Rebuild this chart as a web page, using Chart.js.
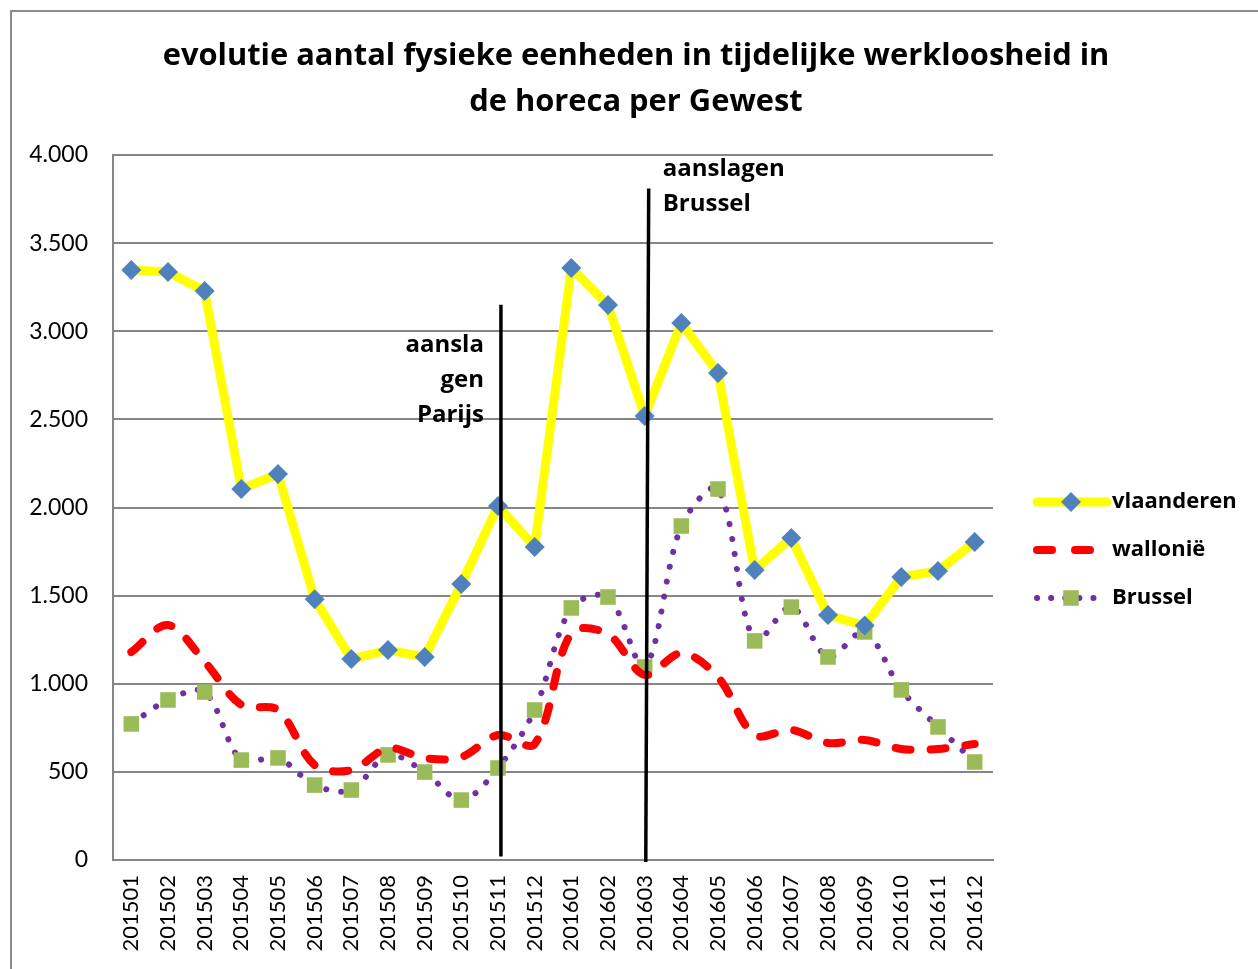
<!DOCTYPE html>
<html>
<head>
<meta charset="utf-8">
<script src="https://cdn.jsdelivr.net/npm/chart.js@4/dist/chart.umd.min.js"></script>
<style>
  html, body { margin: 0; padding: 0; background: #fff; }
  #wrap { width: 1258px; height: 969px; }
</style>
</head>
<body>
<div id="wrap"><canvas id="werkloosheidChart" width="1258" height="969"></canvas></div>
<script>
// maanden (categorieën)
const maanden = ['201501', '201502', '201503', '201504', '201505', '201506', '201507', '201508',
  '201509', '201510', '201511', '201512', '201601', '201602', '201603', '201604',
  '201605', '201606', '201607', '201608', '201609', '201610', '201611', '201612'];

// reeksen
const vlaanderen = [3348, 3336, 3228, 2105, 2190, 1480, 1140, 1191, 1152, 1566, 2009, 1776,
  3359, 3149, 2519, 3047, 2763, 1645, 1827, 1390, 1330, 1606, 1640, 1804];
const wallonie = [1180, 1333, 1125, 880, 851, 539, 510, 635, 578, 584, 709, 658,
  1288, 1282, 1050, 1174, 1038, 709, 738, 664, 681, 630, 630, 658];
const brussel = [772, 908, 953, 567, 579, 425, 397, 596, 499, 340, 522, 851,
  1430, 1492, 1095, 1895, 2105, 1243, 1435, 1152, 1294, 965, 755, 556];

// y-as
const yMin = 0;
const yMax = 4000;
const yStap = 500;

const titel = ['evolutie aantal fysieke eenheden in tijdelijke werkloosheid in', 'de horeca per Gewest'];

// aanslagen: positie in categorie-index, hoogte in eenheden
const aanslagen = [
  { tekst: ['aansla', 'gen', 'Parijs'], onder: 10.08, boven: 10.08, van: 20, tot: 3150, tekstY: 2922, kant: 'links' },
  { tekst: ['aanslagen', 'Brussel'], onder: 14.03, boven: 14.11, van: -12, tot: 3810, tekstY: 3920, kant: 'rechts' }
];

function formatNL(v) {
  return String(v).replace(/\B(?=(\d{3})+(?!\d))/g, '.');
}

const decor = {
  id: 'decor',
  beforeDraw(chart) {
    const ctx = chart.ctx;
    ctx.save();
    ctx.fillStyle = '#fff';
    ctx.fillRect(0, 0, chart.width, chart.height);
    ctx.strokeStyle = '#8c8c8c';
    ctx.lineWidth = 2;
    ctx.strokeRect(11, 11, chart.width + 20, chart.height + 20);
    // titel, breedte afgestemd op het origineel
    ctx.fillStyle = '#000';
    ctx.font = 'bold 30px "Open Sans"';
    const w = ctx.measureText(titel[0]).width;
    const size = 30 * 947 / w;
    ctx.font = 'bold ' + size.toFixed(2) + 'px "Open Sans"';
    ctx.textAlign = 'center';
    ctx.textBaseline = 'middle';
    ctx.fillText(titel[0], 636, 56);
    ctx.fillText(titel[1], 636, 102);
    ctx.restore();
  },
  afterDatasetsDraw(chart) {
    const ctx = chart.ctx;
    const x = chart.scales.x, y = chart.scales.y;
    ctx.save();
    aanslagen.forEach(a => {
      ctx.strokeStyle = '#000';
      ctx.lineWidth = 3.5;
      ctx.beginPath();
      ctx.moveTo(x.getPixelForValue(a.onder), y.getPixelForValue(a.van));
      ctx.lineTo(x.getPixelForValue(a.boven), y.getPixelForValue(a.tot));
      ctx.stroke();
      ctx.fillStyle = '#000';
      ctx.font = 'bold 24px "Open Sans"';
      ctx.textBaseline = 'middle';
      const lx = x.getPixelForValue(a.boven);
      const ty = y.getPixelForValue(a.tekstY);
      a.tekst.forEach((t, i) => {
        if (a.kant === 'links') {
          ctx.textAlign = 'right';
          ctx.fillText(t, lx - 17, ty + i * 35);
        } else {
          ctx.textAlign = 'left';
          ctx.fillText(t, lx + 14, ty + i * 35);
        }
      });
    });
    ctx.restore();
  },
  afterDraw(chart) {
    // legenda
    const ctx = chart.ctx;
    ctx.save();
    chart.data.datasets.forEach((ds, i) => {
      const cy = 502 + i * 48;
      const x0 = 1037, x1 = 1107, cx = 1071;
      ctx.strokeStyle = ds.borderColor;
      ctx.lineWidth = ds.borderWidth;
      ctx.lineCap = ds.borderCapStyle || 'round';
      ctx.setLineDash(ds.legendDash || []);
      ctx.beginPath();
      ctx.moveTo(x0, cy);
      ctx.lineTo(x1, cy);
      ctx.stroke();
      ctx.setLineDash([]);
      if (ds.pointStyle === 'rectRot') {
        const r = ds.pointRadius;
        ctx.fillStyle = ds.pointBackgroundColor;
        ctx.beginPath();
        ctx.moveTo(cx, cy - r);
        ctx.lineTo(cx + r, cy);
        ctx.lineTo(cx, cy + r);
        ctx.lineTo(cx - r, cy);
        ctx.closePath();
        ctx.fill();
      } else if (ds.pointStyle === 'rect') {
        const s = ds.pointRadius * Math.SQRT1_2;
        ctx.fillStyle = ds.pointBackgroundColor;
        ctx.fillRect(cx - s, cy - s, 2 * s, 2 * s);
      }
      ctx.fillStyle = '#000';
      ctx.font = 'bold 22px "Open Sans"';
      ctx.textAlign = 'left';
      ctx.textBaseline = 'middle';
      ctx.fillText(ds.label, 1112, cy);
    });
    ctx.restore();
  }
};

const ctx = document.getElementById('werkloosheidChart').getContext('2d');
new Chart(ctx, {
  type: 'line',
  data: {
    labels: maanden,
    datasets: [{
      label: 'vlaanderen',
      data: vlaanderen,
      borderColor: '#FFFF00',
      borderWidth: 9,
      borderJoinStyle: 'round',
      tension: 0,
      pointStyle: 'rectRot',
      pointRadius: 10,
      pointBackgroundColor: '#4F81BD',
      pointBorderWidth: 0
    }, {
      label: 'wallonië',
      data: wallonie,
      borderColor: '#FF0000',
      borderWidth: 8,
      borderDash: [15, 20],
      legendDash: [15, 23],
      borderCapStyle: 'round',
      tension: 0.33,
      pointRadius: 0
    }, {
      label: 'Brussel',
      data: brussel,
      borderColor: '#7030A0',
      borderWidth: 6,
      borderDash: [0.1, 15],
      legendDash: [0.1, 14],
      borderCapStyle: 'round',
      tension: 0.33,
      pointStyle: 'rect',
      pointRadius: 11,
      pointBackgroundColor: '#9BBB59',
      pointBorderWidth: 0
    }]
  },
  options: {
    responsive: false,
    animation: false,
    layout: { padding: { left: 0, top: 155, right: 1258 - 993, bottom: 0 } },
    plugins: { legend: { display: false }, title: { display: false }, tooltip: { enabled: false } },
    scales: {
      x: {
        offset: true,
        grid: { display: false, drawTicks: false },
        border: { display: true, color: '#868686', width: 2 },
        ticks: {
          color: '#000',
          font: { family: 'Lato', size: 22 },
          minRotation: 90,
          maxRotation: 90,
          padding: 15,
          autoSkip: false
        },
        afterFit(scale) { scale.height = 969 - 860; }
      },
      y: {
        min: yMin,
        max: yMax,
        grid: { color: '#868686', lineWidth: 2, drawTicks: false },
        border: { display: true, color: '#868686', width: 2 },
        ticks: {
          stepSize: yStap,
          color: '#000',
          font: { family: 'Lato', size: 23 },
          padding: 25,
          callback: v => formatNL(v)
        },
        afterFit(scale) { scale.width = 113; }
      }
    }
  },
  plugins: [decor]
});
</script>
</body>
</html>
